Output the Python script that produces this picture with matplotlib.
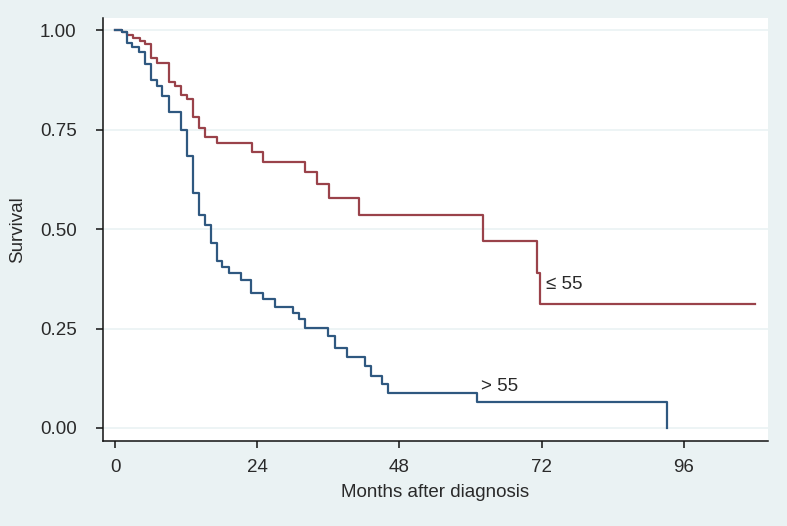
import matplotlib
matplotlib.use("Agg")
import matplotlib.pyplot as plt

# Kaplan-Meier steps (months, survival)
t_young = [0, 1.1, 2.0, 3.1, 4.2, 5.1, 6.0, 7.0, 9.1, 10.1, 11.1, 12.1, 13.1, 14.1,
           15.2, 17.2, 23.1, 25.0, 32.1, 34.0, 36.1, 41.2, 62.1, 71.2, 71.8, 108.0]
s_young = [1.0, 0.995, 0.989, 0.980, 0.974, 0.966, 0.930, 0.917, 0.871, 0.860, 0.838,
           0.827, 0.783, 0.754, 0.733, 0.718, 0.695, 0.670, 0.645, 0.614, 0.578, 0.536,
           0.470, 0.389, 0.312, 0.312]

t_old = [0, 1.1, 2.0, 2.9, 4.1, 5.0, 6.0, 7.0, 8.0, 9.1, 11.1, 12.1, 13.1, 14.2, 15.1,
         16.2, 17.2, 18.0, 19.2, 21.2, 23.0, 24.9, 27.0, 30.1, 31.0, 32.1, 36.0, 37.1,
         39.1, 42.2, 43.2, 45.1, 46.0, 61.0, 93.1]
s_old = [1.0, 0.995, 0.969, 0.958, 0.947, 0.916, 0.875, 0.860, 0.835, 0.794, 0.750,
         0.685, 0.592, 0.536, 0.511, 0.465, 0.420, 0.406, 0.391, 0.372, 0.339, 0.324,
         0.304, 0.290, 0.273, 0.252, 0.232, 0.200, 0.178, 0.156, 0.131, 0.110, 0.087,
         0.065, 0.0]

x_ticks = [0, 24, 48, 72, 96]
y_ticks = [0.0, 0.25, 0.5, 0.75, 1.0]
lab_young = "\u2264 55"
lab_old = "> 55"

plt.rcParams['font.family'] = ['Liberation Sans', 'DejaVu Sans']

bg = '#eaf2f3'
txt = '#2a2a2a'
fig = plt.figure(figsize=(7.87, 5.26), dpi=100, facecolor=bg)
ax = fig.add_axes([0.1309, 0.1616, 0.845, 0.8042])
ax.set_facecolor('white')

for y in y_ticks:
    ax.axhline(y, color=bg, lw=1.2, zorder=0)

ax.step(t_young, s_young, where='post', color='#9a424a', lw=1.6)
ax.step(t_old, s_old, where='post', color='#2f5880', lw=1.6)

ax.text(72.8, 0.36, lab_young, fontsize=13.5, color=txt, va='center', ha='left')
ax.text(61.8, 0.104, lab_old, fontsize=13.5, color=txt, va='center', ha='left')

ax.set_xlim(-2.03, 110.2)
ax.set_ylim(-0.0327, 1.0314)
ax.set_xticks(x_ticks)
ax.set_yticks(y_ticks)
ax.set_yticklabels(["%.2f" % v for v in y_ticks])

for s in ['top', 'right']:
    ax.spines[s].set_visible(False)
for s in ['left', 'bottom']:
    ax.spines[s].set_color('#111111')
    ax.spines[s].set_linewidth(1.1)

ax.tick_params(axis='y', length=5, width=1.1, pad=14, labelsize=13.5, colors='#111111',
               labelcolor=txt)
ax.tick_params(axis='x', length=5, width=1.1, pad=8, labelsize=13.5, colors='#111111',
               labelcolor=txt)

ax.set_xlabel("Months after diagnosis", fontsize=13.5, color=txt, labelpad=6)
ax.set_ylabel("Survival", fontsize=13.5, color=txt, labelpad=10)

fig.savefig("out.png", dpi=100, facecolor=bg)
